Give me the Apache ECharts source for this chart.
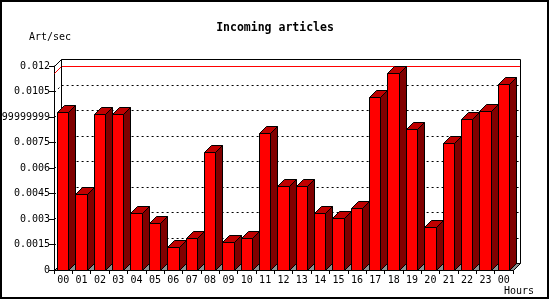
<!DOCTYPE html>
<html>
<head>
<meta charset="utf-8">
<script src="https://cdn.jsdelivr.net/npm/echarts@6/dist/echarts.min.js"></script>
<style>html,body{margin:0;padding:0;background:#fff}#c{width:550px;height:300px}</style>
</head>
<body>
<div id="c"></div>
<script>
const categories = ['00','01','02','03','04','05','06','07','08','09','10','11','12','13','14','15','16','17','18','19','20','21','22','23','00'];
const values = [0.00931,0.00445,0.00916,0.00916,0.00333,0.00275,0.00137,0.0019,0.00692,0.00167,0.0019,0.00804,0.00496,0.00496,0.00333,0.00304,0.00363,0.0102,0.0116,0.00828,0.00251,0.00745,0.00886,0.00937,0.01092];
const yTickLabels = ['0','0.0015','0.003','0.0045','0.006','0.0075','0.0089999999999','0.0105','0.012'];
const yInterval = 0.0015;
const yMax = 0.012;
const maxValue = Math.max.apply(null, values);

const D = 7;
const FONT = 'DejaVu Sans Mono';
const snap = v => Math.round(v) + 0.5;

const chart = echarts.init(document.getElementById('c'), null, {renderer: 'canvas'});

function renderBackground(params, api) {
  const cs = params.coordSys;
  const L = snap(cs.x), R = snap(cs.x + cs.width);
  const T = snap(api.coord([0, yMax])[1]);
  const B = snap(api.coord([0, 0])[1]);
  const children = [];
  children.push({type: 'polygon', shape: {points: [[L, B], [L + D, B - D], [R + D, B - D], [R, B]]},
    style: {fill: '#8f8f8f', stroke: '#000', lineWidth: 1}});
  for (let k = 1; k < yTickLabels.length - 1; k++) {
    const y = snap(api.coord([0, k * yInterval])[1]);
    children.push({type: 'polyline', shape: {points: [[L, y], [L + D, y - D], [R + D, y - D]]},
      style: {stroke: '#000', lineWidth: 1, lineDash: [2, 3], fill: null}});
  }
  const ym = snap(api.coord([0, maxValue])[1]);
  children.push({type: 'polyline', shape: {points: [[L, ym], [L + D, ym - D], [R + D, ym - D]]},
    style: {stroke: '#ff0000', lineWidth: 1, fill: null}});
  children.push({type: 'polyline', shape: {points: [[L + D, B - D], [L + D, T - D], [R + D, T - D], [R + D, B - D]]},
    style: {stroke: '#000', lineWidth: 1, fill: null}});
  children.push({type: 'polyline', shape: {points: [[L, T], [L + D, T - D]]},
    style: {stroke: '#000', lineWidth: 1, fill: null}});
  return {type: 'group', children: children};
}

function renderBar(params, api) {
  const i = api.value(0), v = api.value(1);
  const c = api.coord([i, v]);
  const b = api.coord([i, 0]);
  const bw = api.size([1, 0])[0];
  const half = bw * 0.31;
  const x0 = snap(c[0] - 0.5 - half), x1 = snap(c[0] - 0.5 + half);
  const yt = snap(c[1]), yb = snap(b[1]);
  return {type: 'group', children: [
    {type: 'polygon', shape: {points: [[x1, yt], [x1 + D, yt - D], [x1 + D, yb - D], [x1, yb]]},
      style: {fill: '#800000', stroke: '#000', lineWidth: 1}},
    {type: 'polygon', shape: {points: [[x0, yt], [x1, yt], [x1 + D, yt - D], [x0 + D, yt - D]]},
      style: {fill: '#c00000', stroke: '#000', lineWidth: 1}},
    {type: 'rect', shape: {x: x0, y: yt, width: x1 - x0, height: yb - yt},
      style: {fill: '#ff0000', stroke: '#000', lineWidth: 1}}
  ]};
}

chart.setOption({
  backgroundColor: '#fff',
  animation: false,
  title: {
    text: 'Incoming articles', left: 'center', top: 17,
    textStyle: {fontFamily: FONT, fontWeight: 'bold', fontSize: 11.5, color: '#000'}
  },
  grid: {left: 54, right: 37, top: 66, bottom: 30, containLabel: false, outerBoundsMode: 'none'},
  xAxis: {
    type: 'category', data: categories, boundaryGap: true,
    axisLine: {lineStyle: {color: '#000', width: 1}},
    axisTick: {show: true, length: 4, interval: 0, lineStyle: {color: '#000'}},
    axisLabel: {interval: 0, margin: 5, color: '#000', fontFamily: FONT, fontSize: 10},
    splitLine: {show: false}
  },
  yAxis: {
    type: 'value', min: 0, max: yMax, interval: yInterval,
    axisLine: {show: true, lineStyle: {color: '#000', width: 1}},
    axisTick: {show: true, length: 5, lineStyle: {color: '#000'}},
    axisLabel: {margin: 4, color: '#000', fontFamily: FONT, fontSize: 10,
      formatter: function (v) { return yTickLabels[Math.round(v / yInterval)]; }},
    splitLine: {show: false}
  },
  graphic: [
    {type: 'rect', shape: {x: 1, y: 1, width: 547, height: 297}, style: {fill: null, stroke: '#000', lineWidth: 2}, z: 100},
    {type: 'text', left: 29, top: 32, style: {text: 'Art/sec', fontFamily: FONT, fontSize: 10, fill: '#000'}},
    {type: 'text', left: 504, top: 286, style: {text: 'Hours', fontFamily: FONT, fontSize: 10, fill: '#000'}}
  ],
  series: [
    {type: 'custom', clip: false, z: 1, renderItem: renderBackground, data: [[0, 0]], silent: true},
    {type: 'custom', clip: false, z: 2, renderItem: renderBar, data: values.map((v, i) => [i, v])}
  ]
});
</script>
</body>
</html>
